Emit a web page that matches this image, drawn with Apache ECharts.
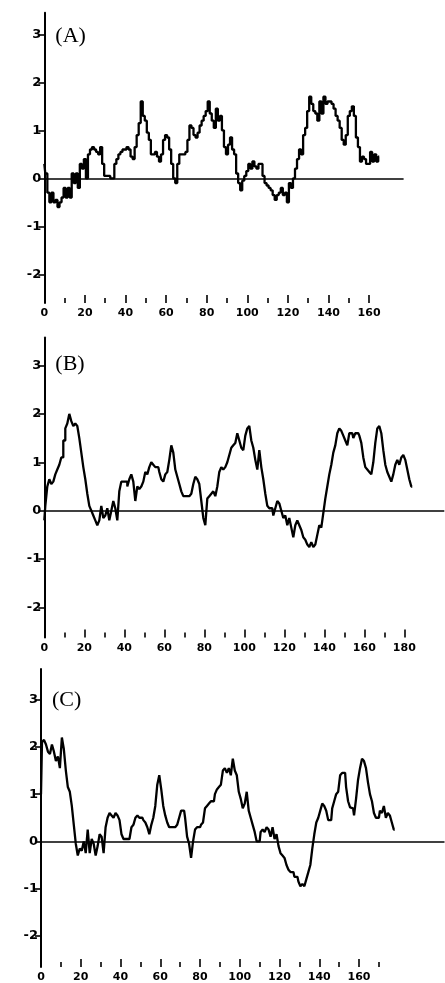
<!DOCTYPE html>
<html>
<head>
<meta charset="utf-8">
<script src="https://cdn.jsdelivr.net/npm/echarts@6/dist/echarts.min.js"></script>
<style>
  html, body { margin: 0; padding: 0; background: #fff; }
  #chart { width: 445px; height: 983px; }
</style>
</head>
<body>
<div id="chart"></div>
<script>
// Hydropathy profiles, one value per residue position (starting at 0).
const hydroA = [
  0.3, 0.1, -0.3, -0.5, -0.3, -0.5, -0.45, -0.6, -0.5, -0.4,
  -0.2, -0.4, -0.2, -0.4, 0.1, -0.1, 0.1, -0.2, 0.3, 0.2,
  0.4, 0.0, 0.5, 0.6, 0.65, 0.6, 0.55, 0.5, 0.65, 0.3,
  0.05, 0.05, 0.05, 0.0, 0.0, 0.3, 0.4, 0.5, 0.55, 0.6,
  0.6, 0.65, 0.6, 0.45, 0.4, 0.65, 0.9, 1.15, 1.6, 1.3,
  1.2, 0.95, 0.8, 0.5, 0.5, 0.55, 0.45, 0.35, 0.5, 0.8,
  0.9, 0.85, 0.6, 0.3, 0.0, -0.1, 0.3, 0.5, 0.5, 0.5,
  0.55, 0.8, 1.1, 1.05, 0.9, 0.85, 0.95, 1.1, 1.2, 1.3,
  1.4, 1.6, 1.35, 1.2, 1.05, 1.45, 1.2, 1.3, 1.0, 0.65,
  0.5, 0.7, 0.85, 0.6, 0.5, 0.1, -0.1, -0.25, -0.05, 0.05,
  0.15, 0.3, 0.2, 0.35, 0.25, 0.2, 0.3, 0.3, 0.05, -0.1,
  -0.15, -0.2, -0.25, -0.35, -0.45, -0.35, -0.3, -0.2, -0.35, -0.3,
  -0.5, -0.1, -0.2, 0.0, 0.2, 0.4, 0.6, 0.5, 0.9, 1.05,
  1.4, 1.7, 1.55, 1.4, 1.35, 1.2, 1.6, 1.35, 1.7, 1.55,
  1.6, 1.6, 1.55, 1.45, 1.3, 1.2, 1.05, 0.8, 0.7, 0.9,
  1.3, 1.4, 1.5, 1.3, 0.85, 0.65, 0.35, 0.45, 0.4, 0.3,
  0.3, 0.55, 0.35, 0.5, 0.35, 0.45
];

const hydroB = [
  -0.2, 0.1, 0.5, 0.65, 0.55, 0.6, 0.75, 0.85, 0.95, 1.1,
  1.45, 1.7, 1.8, 2.0, 1.85, 1.75, 1.8, 1.75, 1.5, 1.2,
  0.9, 0.65, 0.35, 0.1, 0.0, -0.1, -0.2, -0.3, -0.2, 0.1,
  -0.15, -0.1, 0.05, -0.2, 0.0, 0.2, 0.05, -0.2, 0.4, 0.6,
  0.6, 0.6, 0.5, 0.65, 0.75, 0.6, 0.2, 0.5, 0.45, 0.5,
  0.6, 0.8, 0.75, 0.9, 1.0, 0.95, 0.9, 0.9, 0.8, 0.65,
  0.6, 0.75, 0.8, 1.05, 1.35, 1.2, 0.85, 0.7, 0.55, 0.4,
  0.3, 0.3, 0.3, 0.3, 0.35, 0.55, 0.7, 0.65, 0.55, 0.2,
  -0.15, -0.3, 0.25, 0.3, 0.35, 0.4, 0.3, 0.5, 0.8, 0.9,
  0.85, 0.9, 1.0, 1.15, 1.3, 1.35, 1.4, 1.6, 1.45, 1.3,
  1.25, 1.55, 1.7, 1.75, 1.45, 1.3, 1.05, 0.85, 1.25, 0.9,
  0.65, 0.35, 0.1, 0.05, 0.05, -0.1, 0.05, 0.2, 0.15, 0.0,
  -0.15, -0.1, -0.3, -0.15, -0.35, -0.55, -0.3, -0.2, -0.3, -0.4,
  -0.55, -0.6, -0.7, -0.75, -0.65, -0.75, -0.7, -0.5, -0.3, -0.35,
  -0.05, 0.25, 0.5, 0.75, 0.95, 1.2, 1.35, 1.6, 1.7, 1.65,
  1.55, 1.45, 1.35, 1.6, 1.6, 1.5, 1.6, 1.6, 1.55, 1.4,
  1.1, 0.9, 0.85, 0.8, 0.75, 1.0, 1.4, 1.7, 1.75, 1.6,
  1.25, 0.95, 0.8, 0.7, 0.6, 0.75, 0.95, 1.05, 0.95, 1.1,
  1.15, 1.05, 0.85, 0.65, 0.5
];

const hydroC = [
  1.0, 2.1, 2.15, 2.05, 1.9, 1.85, 2.05, 1.9, 1.7, 1.8,
  1.55, 2.2, 1.95, 1.5, 1.15, 1.05, 0.75, 0.35, -0.05, -0.3,
  -0.15, -0.2, 0.0, -0.25, 0.25, -0.25, 0.05, -0.05, -0.3, -0.1,
  0.15, 0.1, -0.25, 0.3, 0.5, 0.6, 0.55, 0.5, 0.6, 0.55,
  0.45, 0.15, 0.05, 0.05, 0.05, 0.05, 0.3, 0.35, 0.5, 0.55,
  0.5, 0.5, 0.45, 0.4, 0.3, 0.15, 0.35, 0.5, 0.75, 1.2,
  1.4, 1.1, 0.75, 0.55, 0.4, 0.3, 0.3, 0.3, 0.3, 0.35,
  0.5, 0.65, 0.65, 0.5, 0.1, -0.05, -0.35, 0.0, 0.25, 0.3,
  0.3, 0.35, 0.4, 0.7, 0.75, 0.8, 0.85, 0.85, 1.0, 1.1,
  1.15, 1.2, 1.5, 1.55, 1.45, 1.55, 1.4, 1.75, 1.5, 1.4,
  1.05, 0.9, 0.7, 0.8, 1.05, 0.65, 0.5, 0.35, 0.2, 0.0,
  0.0, 0.2, 0.25, 0.2, 0.3, 0.25, 0.1, 0.3, 0.05, 0.15,
  -0.1, -0.25, -0.3, -0.35, -0.5, -0.6, -0.65, -0.65, -0.75, -0.75,
  -0.85, -0.95, -0.9, -0.95, -0.8, -0.65, -0.5, -0.15, 0.15, 0.4,
  0.5, 0.65, 0.8, 0.75, 0.65, 0.45, 0.45, 0.7, 0.85, 1.0,
  1.05, 1.4, 1.45, 1.45, 1.15, 0.85, 0.72, 0.7, 0.55, 0.9,
  1.3, 1.55, 1.75, 1.7, 1.55, 1.25, 1.0, 0.85, 0.6, 0.5,
  0.5, 0.65, 0.6, 0.75, 0.5, 0.6, 0.55, 0.4, 0.25
];

// Axis tick values
const yTicks = [-2, -1, 0, 1, 2, 3];
const xMajorA = [0, 20, 40, 60, 80, 100, 120, 140, 160];
const xMinorA = [10, 30, 50, 70, 90, 110, 130, 150];
const xMajorB = [0, 20, 40, 60, 80, 100, 120, 140, 160, 180];
const xMinorB = [10, 30, 50, 70, 90, 110, 130, 150, 170];
const xMajorC = [0, 20, 40, 60, 80, 100, 120, 140, 160];
const xMinorC = [10, 30, 50, 70, 90, 110, 130, 150, 170];

const panelLabels = ['(A)', '(B)', '(C)'];

// Layout of the three stacked panels
const panels = [
  { label: panelLabels[0], values: hydroA, major: xMajorA, minor: xMinorA,
    left: 44.3, top: 12.7, width: 359.3, height: 290.4, xMax: 177, yMin: -2.6, yMax: 3.45, labelTop: 25 },
  { label: panelLabels[1], values: hydroB, major: xMajorB, minor: xMinorB,
    left: 44.3, top: 337.4, width: 400, height: 300.1, xMax: 200, yMin: -2.62, yMax: 3.58, labelTop: 353 },
  { label: panelLabels[2], values: hydroC, major: xMajorC, minor: xMinorC,
    left: 41, top: 669, width: 403.5, height: 304.2, xMax: 203, yMin: -2.66, yMax: 3.65, labelTop: 689 }
];

const tickFont = 'DejaVu Sans';
const grid = [], xAxis = [], yAxis = [], series = [], title = [];

panels.forEach((p, i) => {
  grid.push({ left: p.left, top: p.top, width: p.width, height: p.height, containLabel: false });

  // labelled ticks every 20 residues
  xAxis.push({
    type: 'value', gridIndex: i, position: 'bottom', min: 0, max: p.xMax,
    axisLine: { show: false, onZero: false },
    splitLine: { show: false },
    axisTick: { show: true, inside: true, length: 8, customValues: p.major,
                lineStyle: { color: '#000', width: 1.6 } },
    axisLabel: { show: true, customValues: p.major, margin: 5, color: '#000',
                 fontFamily: tickFont, fontWeight: 'bold', fontSize: 11 }
  });
  // short ticks in between
  xAxis.push({
    type: 'value', gridIndex: i, position: 'bottom', min: 0, max: p.xMax,
    axisLine: { show: false, onZero: false },
    splitLine: { show: false },
    axisTick: { show: true, inside: true, length: 5, customValues: p.minor,
                lineStyle: { color: '#000', width: 1.6 } },
    axisLabel: { show: false }
  });

  yAxis.push({
    type: 'value', gridIndex: i, min: p.yMin, max: p.yMax,
    axisLine: { show: true, onZero: false, lineStyle: { color: '#000', width: 2 } },
    splitLine: { show: false },
    axisTick: { show: true, length: 6, customValues: yTicks,
                lineStyle: { color: '#000', width: 1.6 } },
    axisLabel: { show: true, customValues: yTicks, margin: 3, color: '#000',
                 fontFamily: tickFont, fontWeight: 'bold', fontSize: 13 }
  });

  series.push({
    type: 'line',
    xAxisIndex: i * 2, yAxisIndex: i,
    data: p.values.map((v, k) => [k, v]),
    step: 'middle',
    showSymbol: false, symbol: 'none',
    lineStyle: { color: '#000', width: 2.3 },
    silent: true,
    markLine: {
      silent: true, symbol: ['none', 'none'], label: { show: false },
      lineStyle: { color: '#000', width: 1.6, type: 'solid' },
      data: [{ yAxis: 0 }]
    }
  });

  title.push({
    text: p.label, left: p.left + 11, top: p.labelTop, padding: 0,
    textStyle: { fontFamily: 'Liberation Serif', fontWeight: 'normal', fontSize: 22, color: '#000' }
  });
});

const chart = echarts.init(document.getElementById('chart'), null, { renderer: 'canvas' });
chart.setOption({
  animation: false,
  backgroundColor: '#fff',
  title, grid, xAxis, yAxis, series
});
</script>
</body>
</html>
